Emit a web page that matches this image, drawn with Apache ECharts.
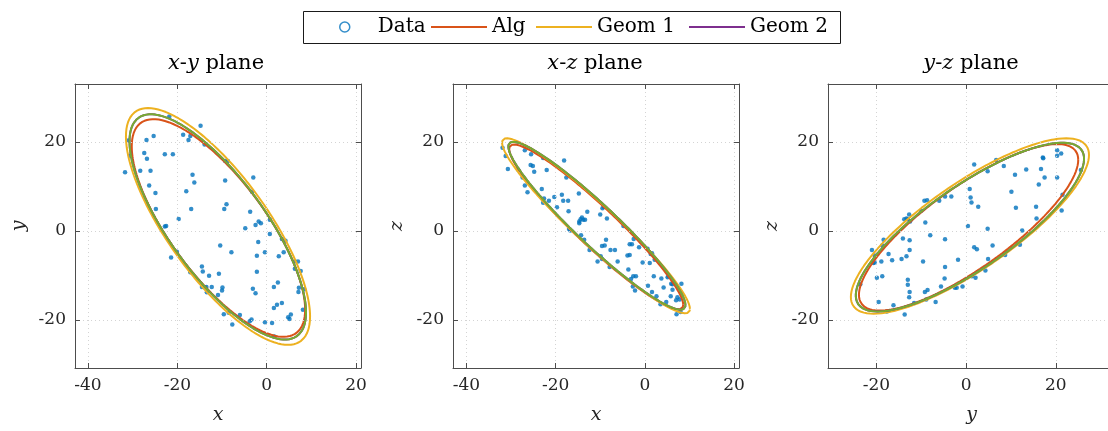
<!DOCTYPE html>
<html>
<head>
<meta charset="utf-8">
<script src="https://cdn.jsdelivr.net/npm/echarts@6/dist/echarts.min.js"></script>
<style>
html,body{margin:0;padding:0;background:#fff;}
#chart{width:1108px;height:431px;}
</style>
</head>
<body>
<div id="chart"></div>
<script>
// ---------- data ----------
const legendNames = ['Data', 'Alg', 'Geom 1', 'Geom 2'];
const panelTitles = ['{i|x}-{i|y} plane', '{i|x}-{i|z} plane', '{i|y}-{i|z} plane'];
const hAxisNames = ['x', 'x', 'y'];
const vAxisNames = ['y', 'z', 'z'];
const hTicks = [[-40, -20, 0, 20], [-40, -20, 0, 20], [-20, 0, 20]];
const vTicks = [[-20, 0, 20], [-20, 0, 20], [-20, 0, 20]];
const hLimits = [[-42.9, 21.1], [-43.0, 21.1], [-30.8, 33.2]];
const vLimits = [[-30.8, 33.0], [-30.8, 33.0], [-30.8, 33.0]];

// projected data points
const dataXY = [[-31.0,20.3],[-30.6,16.9],[-31.7,13.2],[-28.3,13.5],[-27.4,17.5],[-26.8,16.2],[-26.9,20.4],[-25.3,21.3],[-26.0,13.5],[-26.3,10.2],[-24.9,8.5],[-24.8,4.9],[-22.8,17.2],[-21.0,17.2],[-21.8,25.7],[-18.7,21.6],[-17.5,20.4],[-17.1,21.3],[-14.8,23.6],[-13.9,19.4],[-16.6,12.6],[-16.2,10.9],[-18.0,8.9],[-16.9,4.9],[-19.7,2.7],[-22.8,1.0],[-22.5,1.1],[-20.1,-4.7],[-21.4,-6.0],[-9.3,15.7],[-8.7,15.7],[-9.3,11.3],[-9.0,6.0],[-9.5,4.9],[-3.0,12.0],[-3.3,8.8],[-3.7,4.3],[-4.8,0.6],[-2.5,1.3],[-1.8,2.1],[-1.3,1.7],[-1.9,-2.5],[-2.2,-5.6],[-0.4,-4.8],[0.7,2.5],[0.7,-0.7],[3.4,-1.8],[4.2,-2.2],[2.7,-5.7],[3.8,-4.8],[-10.4,-3.3],[-7.9,-4.8],[-2.2,-9.2],[6.3,-6.9],[7.0,-6.9],[6.3,-8.5],[7.6,-9.0],[2.5,-11.6],[1.6,-12.6],[-3.1,-13.0],[-2.5,-14.0],[-14.5,-8.0],[-14.3,-9.1],[-17.1,-9.3],[-12.9,-10.1],[-10.7,-9.6],[-14.5,-12.6],[-13.8,-12.7],[-13.5,-12.6],[-13.4,-13.8],[-12.3,-12.6],[-9.9,-12.7],[-10.0,-13.4],[-10.9,-14.4],[-9.6,-18.7],[-7.7,-21.0],[-6.0,-18.9],[-8.5,-18.4],[-3.8,-20.3],[-3.4,-19.9],[-0.4,-20.5],[1.2,-20.7],[1.6,-17.3],[2.3,-16.6],[3.4,-16.2],[4.8,-19.4],[5.1,-19.8],[5.4,-18.8],[7.1,-13.7],[7.2,-12.8],[8.1,-17.7],[8.4,-13.1],[1.7,-23.7]];
const dataXZ = [[-31.9,18.7],[-31.2,16.8],[-30.7,13.9],[-28.4,13.8],[-26.9,18.1],[-25.5,17.2],[-25.6,14.8],[-25.1,14.6],[-24.8,13.3],[-27.4,12.0],[-26.9,10.2],[-26.3,8.7],[-22.8,16.4],[-22.0,13.7],[-18.1,15.8],[-17.6,12.0],[-23.1,9.4],[-22.6,7.3],[-22.8,6.3],[-21.5,6.8],[-20.3,7.6],[-19.7,5.3],[-18.6,8.1],[-18.3,6.8],[-17.2,6.8],[-17.1,4.4],[-14.8,8.4],[-17.0,0.4],[-16.7,0.1],[-14.7,2.1],[-14.4,2.6],[-14.1,3.0],[-13.8,2.5],[-13.4,2.5],[-14.7,1.7],[-12.9,4.3],[-14.3,-1.0],[-13.6,-2.0],[-12.4,-4.3],[-10.6,-6.9],[-10.0,3.7],[-9.5,5.1],[-9.2,5.4],[-8.5,2.8],[-9.6,-3.4],[-9.0,-3.3],[-8.7,-2.0],[-9.9,-5.7],[-9.6,-6.3],[-7.7,-4.3],[-6.7,-4.3],[-7.9,-8.1],[-6.1,-6.9],[-4.8,1.1],[-3.9,-5.5],[-3.4,-5.4],[-3.7,-8.7],[-3.1,-10.8],[-2.6,-10.2],[-2.0,-10.2],[-3.4,-3.0],[-2.9,-3.0],[-2.5,-1.8],[-1.3,-3.7],[-2.7,-12.5],[-2.2,-13.4],[-0.5,-7.1],[0.6,-4.0],[1.1,-7.2],[1.3,-5.2],[1.6,-5.0],[2.2,-6.5],[0.7,-12.3],[1.6,-13.7],[2.6,-14.7],[2.0,-10.2],[3.7,-10.7],[4.2,-12.7],[5.1,-10.4],[5.3,-10.2],[5.9,-11.9],[6.2,-13.2],[6.2,-12.0],[8.2,-11.9],[5.8,-14.7],[4.8,-16.0],[3.5,-16.5],[7.0,-15.6],[7.3,-14.9],[7.8,-15.4],[7.1,-18.7],[8.0,-18.2]];
const dataYZ = [[-23.6,-12.0],[-21.0,-4.3],[-20.7,-7.2],[-20.4,-7.1],[-20.4,-5.5],[-19.9,-10.5],[-19.5,-16.0],[-18.9,-6.9],[-18.7,-3.3],[-18.7,-10.2],[-18.4,-2.0],[-17.7,-18.1],[-17.3,-5.2],[-16.5,-6.6],[-16.2,-16.7],[-14.4,-6.3],[-14.1,-1.7],[-13.8,2.6],[-13.3,2.8],[-13.3,-5.7],[-13.7,-18.8],[-13.0,2.6],[-12.7,3.7],[-12.5,2.1],[-12.6,-2.1],[-12.6,-4.3],[-13.0,-11.0],[-13.0,-12.1],[-12.6,-13.7],[-12.7,-14.9],[-11.6,-16.2],[-10.0,4.5],[-9.6,-6.9],[-9.1,1.9],[-9.3,6.8],[-8.7,6.9],[-9.2,-13.7],[-8.6,-13.3],[-8.9,-15.4],[-8.0,-1.0],[-6.8,-16.0],[-6.0,6.8],[-5.6,-12.5],[-4.7,7.7],[-4.7,-1.9],[-4.7,-8.1],[-4.8,-10.7],[-3.3,7.7],[-2.5,-12.8],[-2.1,-12.8],[-1.8,-6.5],[-0.8,-12.5],[0.4,1.1],[0.8,9.4],[1.0,7.5],[1.2,6.4],[1.3,-10.2],[1.8,-3.7],[1.8,14.9],[2.1,-10.5],[2.4,-4.1],[2.7,5.4],[4.3,-8.9],[4.8,0.5],[4.8,13.4],[4.9,-6.3],[5.9,-3.3],[6.7,15.9],[8.4,14.6],[8.7,-5.4],[10.1,8.8],[10.9,12.6],[11.1,5.2],[12.0,-3.1],[12.5,0.1],[13.4,13.8],[15.6,5.4],[15.7,2.8],[16.2,10.4],[16.7,13.9],[17.1,16.5],[17.2,16.3],[17.5,12.0],[20.3,16.9],[20.3,18.1],[20.3,12.0],[21.2,17.4],[21.5,8.1],[21.3,4.6],[25.6,13.7]];

// fitted ellipses per plane: [centerH, centerV, halfExtentH, halfExtentV, correlation]
const algEllipses   = [[-10.8, 0.65, 19.4, 24.45, -0.75], [-10.9, 0.9, 19.5, 18.5, -0.945], [0.55, 0.8, 24.45, 18.7, 0.81]];
const geom1Ellipses = [[-10.9, 1.0, 20.6, 26.6, -0.76], [-10.95, 1.15, 21.05, 19.65, -0.95], [0.85, 1.1, 26.55, 19.7, 0.81]];
const geom2Ellipses = [[-10.95, 0.9, 19.75, 25.3, -0.76], [-10.75, 1.15, 19.85, 18.85, -0.945], [0.85, 0.85, 25.45, 18.95, 0.81]];
const fitEllipses   = [[-10.95, 0.9, 19.75, 25.3, -0.76], [-10.75, 1.15, 19.85, 18.85, -0.945], [0.85, 0.85, 25.45, 18.95, 0.81]];

// ---------- styles ----------
const F = 'DejaVu Serif';
const AX = '#4d4d4d';
const TXT = '#262626';
const COLORS = {Data: '#0072BD', Alg: '#D95319', 'Geom 1': '#EDB120', 'Geom 2': '#7E2F8E', Fit: '#77AC30'};
const gridBoxes = [
  {left: 75, top: 84, width: 286, height: 284},
  {left: 453, top: 84, width: 286, height: 284},
  {left: 828, top: 84, width: 287, height: 284}
];

function ellipseCurve(p) {
  const [ch, cv, hw, hh, rho] = p;
  const s = Math.sqrt(1 - rho * rho);
  const pts = [];
  const N = 240;
  for (let k = 0; k <= N; k++) {
    const t = 2 * Math.PI * k / N;
    pts.push([ch + hw * Math.cos(t), cv + hh * (rho * Math.cos(t) + s * Math.sin(t))]);
  }
  return pts;
}

function axis(gi, lim, ticks, pos, main, name, gap) {
  return {
    type: 'value', gridIndex: gi, min: lim[0], max: lim[1], position: pos, splitNumber: 3,
    name: main ? name : '', nameLocation: 'middle', nameGap: gap,
    nameTextStyle: {fontFamily: F, fontStyle: 'italic', fontSize: 19, color: TXT},
    axisLine: {show: true, onZero: false, lineStyle: {color: AX, width: 1}},
    axisTick: {show: true, inside: true, length: 5, customValues: ticks, lineStyle: {color: AX, width: 1}},
    axisLabel: {show: main, customValues: ticks, margin: 9, fontFamily: F, fontSize: 17, color: TXT},
    splitLine: {show: main, lineStyle: {color: '#d4d4d4', width: 1, type: [1, 3]}},
    z: 5
  };
}

const xAxes = [], yAxes = [];
for (let i = 0; i < 3; i++) {
  xAxes.push(axis(i, hLimits[i], hTicks[i], 'bottom', true, hAxisNames[i], 38));
  xAxes.push(axis(i, hLimits[i], hTicks[i], 'top', false, '', 0));
  yAxes.push(axis(i, vLimits[i], vTicks[i], 'left', true, vAxisNames[i], 46));
  yAxes.push(axis(i, vLimits[i], vTicks[i], 'right', false, '', 0));
}

const dataSets = [dataXY, dataXZ, dataYZ];
const series = [];
for (let i = 0; i < 3; i++) {
  series.push({
    name: 'Data', type: 'scatter', xAxisIndex: 2 * i, yAxisIndex: 2 * i,
    data: dataSets[i], symbol: 'circle', symbolSize: 4.5,
    itemStyle: {color: COLORS.Data}, z: 2
  });
  const lines = [['Alg', algEllipses[i]], ['Geom 1', geom1Ellipses[i]], ['Geom 2', geom2Ellipses[i]], ['Fit', fitEllipses[i]]];
  lines.forEach(([nm, p], j) => {
    series.push({
      name: nm, type: 'line', xAxisIndex: 2 * i, yAxisIndex: 2 * i,
      data: ellipseCurve(p), symbol: 'none', showSymbol: false, smooth: false,
      lineStyle: {color: COLORS[nm], width: 2}, itemStyle: {color: COLORS[nm]},
      z: 3 + j, clip: true
    });
  });
}

const legendLefts = [339, 430, 535, 688];
const legends = legendNames.map((nm, k) => ({
  data: [nm === 'Data'
    ? {name: nm, icon: 'circle', itemStyle: {color: '#ffffff', borderColor: COLORS.Data, borderWidth: 1.5}}
    : {name: nm, itemStyle: {color: 'rgba(0,0,0,0)', borderWidth: 0, opacity: 0}}],
  left: legendLefts[k], top: 17, padding: 0, itemWidth: 56, itemHeight: k === 0 ? 10 : 14,
  itemGap: 0, selectedMode: false,
  textStyle: {fontFamily: F, fontSize: 20, color: '#000'},
  z: 10
}));

const titleCenters = [216, 595, 971];
const graphics = [{
  type: 'rect', left: 303, top: 11, shape: {width: 537, height: 32},
  style: {fill: '#ffffff', stroke: '#1a1a1a', lineWidth: 1}, z: 1
}];
panelTitles.forEach((t, i) => {
  graphics.push({
    type: 'text', x: titleCenters[i], y: 64, z: 10,
    style: {
      text: t, align: 'center', verticalAlign: 'middle',
      fontFamily: F, fontSize: 21, fill: '#000',
      rich: {i: {fontFamily: F, fontSize: 21, fontStyle: 'italic', fill: '#000'}}
    }
  });
});

const chart = echarts.init(document.getElementById('chart'), null, {renderer: 'canvas'});
chart.setOption({
  animation: false,
  backgroundColor: '#ffffff',
  textStyle: {fontFamily: F},
  grid: gridBoxes.map(g => Object.assign({outerBoundsMode: 'none', containLabel: false}, g)),
  xAxis: xAxes,
  yAxis: yAxes,
  legend: legends,
  graphic: graphics,
  series: series
});
</script>
</body>
</html>
